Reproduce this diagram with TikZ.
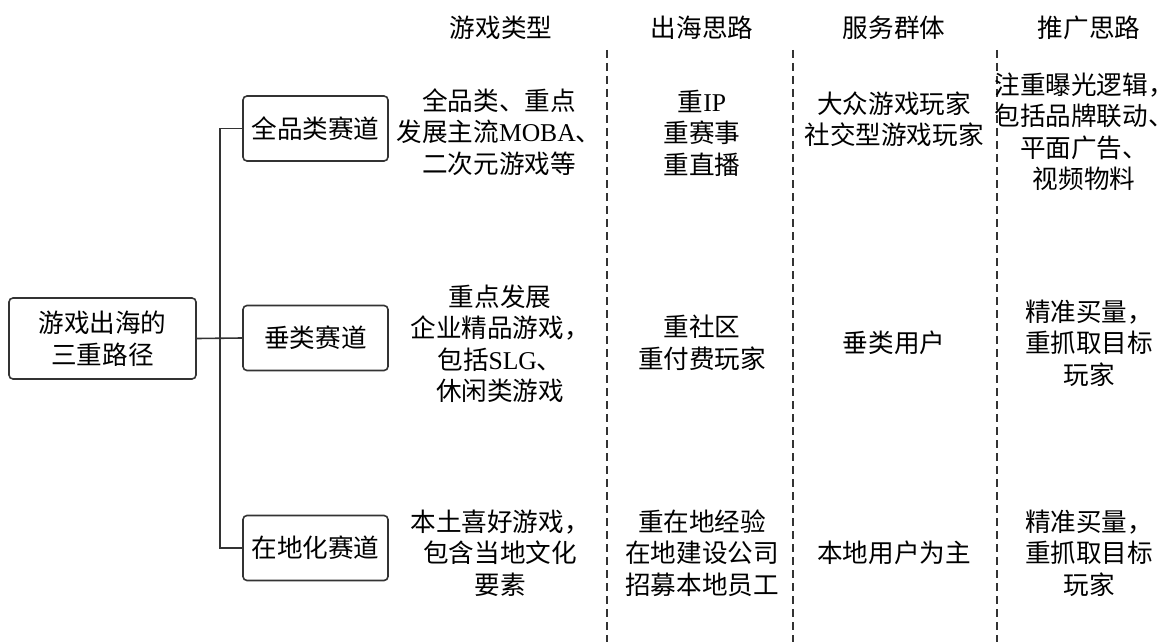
\documentclass[tikz,border=0pt]{standalone}
\usepackage{fontspec}
\setmainfont{Noto Sans CJK SC}
\newfontfamily\lat{Liberation Serif}

\tikzset{
  texto/.style={align=center, inner sep=0pt, font=\fontsize{12.8}{15.75}\selectfont},
  caja/.style={texto, draw=black!80, line width=0.8pt, rounded corners=2pt},
  linea/.style={draw=black!80, line width=0.8pt},
  division/.style={black!80, line width=0.7pt, dash pattern=on 4pt off 2.5pt}
}

\begin{document}
\begin{tikzpicture}[x=0.5pt, y=-0.5pt]

    % marco
    \useasboundingbox (0,0) rectangle (1167,642);

    % caja principal
    \node[caja, minimum width=93.5pt, minimum height=40.5pt] (root) at (102.5,338.5) {游戏出海的\\三重路径};

    % ramas
    \node[caja, minimum width=72.5pt, minimum height=32.5pt] (quanpin) at (315.5,128.5) {全品类赛道};
    \node[caja, minimum width=72.5pt, minimum height=32.5pt] (chuilei) at (315.5,338) {垂类赛道};
    \node[caja, minimum width=72.5pt, minimum height=32.5pt] (zaidi) at (315.5,548) {在地化赛道};

    % conectores
    \coordinate (fork) at (220,338);
    \draw[linea] (root.east) -- (chuilei.west);
    \draw[linea] (fork) |- (quanpin.west);
    \draw[linea] (fork) |- (zaidi.west);

    % lineas divisorias
    \draw[division] (607,50) -- (607,642);
    \draw[division] (793,50) -- (793,642);
    \draw[division] (997,50) -- (997,642);

    % encabezados
    \node[texto] (h1) at (501,28) {游戏类型};
    \node[texto] (h2) at (702,28) {出海思路};
    \node[texto] (h3) at (894,28) {服务群体};
    \node[texto] (h4) at (1089,28) {推广思路};

    % fila 1
    \node[texto] (t11) at (499,132) {全品类、重点\\发展主流{\lat MOBA}、\\二次元游戏等};
    \node[texto] (t12) at (702,133) {重{\lat IP}\\重赛事\\重直播};
    \node[texto] (t13) at (894,119) {大众游戏玩家\\社交型游戏玩家};
    \node[texto] (t14) at (1084,132) {注重曝光逻辑，\\包括品牌联动、\\平面广告、\\视频物料};

    % fila 2
    \node[texto] (t21) at (500,344) {重点发展\\企业精品游戏，\\包括{\lat SLG}、\\休闲类游戏};
    \node[texto] (t22) at (702,343) {重社区\\重付费玩家};
    \node[texto] (t23) at (894,343) {垂类用户};
    \node[texto] (t24) at (1089,343) {精准买量，\\重抓取目标\\玩家};

    % fila 3
    \node[texto] (t31) at (500,553) {本土喜好游戏，\\包含当地文化\\要素};
    \node[texto] (t32) at (702,553) {重在地经验\\在地建设公司\\招募本地员工};
    \node[texto] (t33) at (894,553) {本地用户为主};
    \node[texto] (t34) at (1089,553) {精准买量，\\重抓取目标\\玩家};

\end{tikzpicture}
\end{document}
